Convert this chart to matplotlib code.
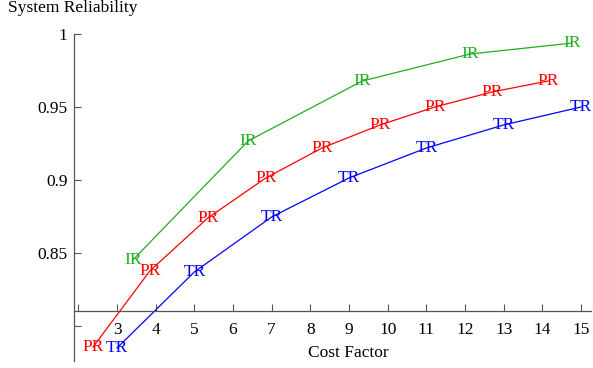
import matplotlib
matplotlib.use('Agg')
import matplotlib.pyplot as plt

# series
ir_x = [3.41, 6.39, 9.34, 12.13, 14.77]
ir_y = [0.8452, 0.9267, 0.9678, 0.9863, 0.9938]

pr_x = [2.38, 3.85, 5.35, 6.85, 8.30, 9.80, 11.22, 12.70, 14.15]
pr_y = [0.7856, 0.8377, 0.8740, 0.9014, 0.9219, 0.9377, 0.9500, 0.9603, 0.9678]

tr_x = [3.0, 5.0, 7.0, 9.0, 11.0, 13.0, 15.0]
tr_y = [0.7849, 0.8370, 0.8747, 0.9014, 0.9219, 0.9377, 0.9500]

x_ticks = list(range(2, 16))
x_tick_labels = [''] + [str(v) for v in range(3, 16)]
y_ticks = [0.80, 0.85, 0.90, 0.95, 1.00]
y_tick_labels = ['', '0.85', '0.9', '0.95', '1']

series = [
    (ir_x, ir_y, 'IR', '#1fae1f'),
    (pr_x, pr_y, 'PR', '#ff0000'),
    (tr_x, tr_y, 'TR', '#0000ff'),
]

fs = 12.5
plt.rcParams['font.family'] = ['Liberation Serif', 'DejaVu Serif']
plt.rcParams['font.size'] = fs

fig = plt.figure(figsize=(5.93, 3.68), dpi=100)
ax = fig.add_axes([0, 0, 1, 1])
ax.set_xlim(-0.026, 15.31)
ax.set_ylim(0.7712, 1.0233)
ax.patch.set_alpha(0)

for xs, ys, name, col in series:
    ax.plot(xs, ys, color=col, lw=0.9, zorder=2)
    for x, y in zip(xs, ys):
        ax.text(x, y, name, color=col, ha='center', va='center', fontsize=fs, zorder=3)

axis_col = '#555555'
for s in ['top', 'right']:
    ax.spines[s].set_visible(False)
ax.spines['left'].set_position(('data', 1.9))
ax.spines['bottom'].set_position(('data', 0.81))
ax.spines['left'].set_bounds(0.776, 1.0)
ax.spines['bottom'].set_bounds(1.9, 15.26)
for s in ['left', 'bottom']:
    ax.spines[s].set_color(axis_col)
    ax.spines[s].set_linewidth(0.9)

ax.set_xticks(x_ticks)
ax.set_xticklabels(x_tick_labels)
ax.set_yticks(y_ticks)
ax.set_yticklabels(y_tick_labels)
ax.tick_params(axis='x', direction='in', length=5, width=0.8, color=axis_col, pad=8, labelsize=fs)
ax.tick_params(axis='y', direction='in', length=5, width=0.8, color=axis_col, pad=5, labelsize=fs)

fig.text(8 / 593, 1 - 8 / 368, 'System Reliability', ha='left', va='center', fontsize=fs)
fig.text(348 / 593, 1 - 353 / 368, 'Cost Factor', ha='center', va='center', fontsize=fs)

fig.savefig('out.png', dpi=100)
